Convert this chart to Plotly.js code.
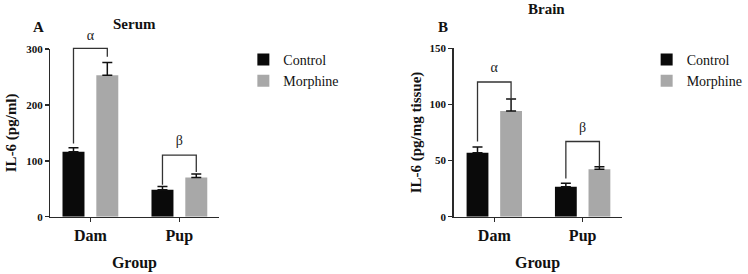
<!DOCTYPE html>
<html>
<head>
<meta charset="utf-8">
<script src="https://cdn.plot.ly/plotly-3.0.1.min.js"></script>
<style>html,body{margin:0;padding:0;background:#fff}#chart{width:748px;height:274px}</style>
</head>
<body>
<div id="chart"></div>
<script>
// ---- data ----
const groups = ['Dam', 'Pup'];
const groupPos = [0, 1];
const seriesNames = ['Control', 'Morphine'];

const serumControl = [116, 48];
const serumControlErr = [7.5, 6];
const serumMorphine = [253, 70];
const serumMorphineErr = [23, 6.5];

const brainControl = [57, 26.7];
const brainControlErr = [5, 3];
const brainMorphine = [94.2, 42.2];
const brainMorphineErr = [10.6, 2.3];

// significance brackets: [group, top, left end, right end, label, label y]
const serumBrackets = [[0, 301, 131, 286, 'α', 322], [1, 110, 57, 80, 'β', 134]];
const brainBrackets = [[0, 120, 67, 104, 'α', 132], [1, 67, 34, 45, 'β', 79]];

const serumTicks = [0, 100, 200, 300];
const brainTicks = [0, 50, 100, 150];
const serumRange = [0, 300];
const brainRange = [0, 150];

// ---- style ----
const SERIF = '"Liberation Serif", "Times New Roman", serif';
const BLACK = '#0a0a0a';
const GRAY = '#a8a8a8';
const AXC = '#2a2a2a';
const BARGAP = 0.24, BARGROUPGAP = 0.35;
const OFF = (1 - BARGAP) / 4;

function px(x) { return x / 748; }
function py(y) { return 1 - y / 274; }

const serumDom = [py(216.7), py(49)];
const brainDom = [py(216.7), py(48.3)];

function bar(y, err, name, color, xa, ya, legend) {
  return {
    type: 'bar', x: groupPos, y: y, name: name, xaxis: xa, yaxis: ya,
    legend: legend, showlegend: true,
    marker: {color: color, line: {width: 0}},
    error_y: {type: 'data', array: err, arrayminus: err.map(() => 0), symmetric: false,
              color: '#111', thickness: 1.5, width: 5}
  };
}

const data = [
  bar(serumControl, serumControlErr, seriesNames[0], BLACK, 'x', 'y', 'legend'),
  bar(serumMorphine, serumMorphineErr, seriesNames[1], GRAY, 'x', 'y', 'legend'),
  bar(brainControl, brainControlErr, seriesNames[0], BLACK, 'x2', 'y2', 'legend2'),
  bar(brainMorphine, brainMorphineErr, seriesNames[1], GRAY, 'x2', 'y2', 'legend2')
];

// brackets go on hidden, taller twin y-axes with the same scale, so they are not clipped
function addBrackets(list, xa, ya) {
  list.forEach(b => {
    const [g, top, l, r, lab, ly] = b;
    const x0 = groupPos[g] - OFF, x1 = groupPos[g] + OFF;
    data.push({type: 'scatter', mode: 'lines', xaxis: xa, yaxis: ya, showlegend: false,
      hoverinfo: 'skip', x: [x0, x0, x1, x1], y: [l, top, top, r],
      line: {color: '#333', width: 1.3}});
    data.push({type: 'scatter', mode: 'text', xaxis: xa, yaxis: ya, showlegend: false,
      cliponaxis: false, hoverinfo: 'skip',
      x: [groupPos[g]], y: [ly], text: [lab], textposition: 'middle center',
      textfont: {family: SERIF, size: 14, color: '#222'}});
  });
}
addBrackets(serumBrackets, 'x', 'y3');
addBrackets(brainBrackets, 'x2', 'y4');

function lab(x, y, t) {
  return {xref: 'paper', yref: 'paper', x: px(x), y: py(y), xanchor: 'center', yanchor: 'middle',
    text: '<b>' + t + '</b>', showarrow: false, font: {family: SERIF, size: 15, color: '#111'}};
}
const annotations = [lab(135, 24, 'Serum'), lab(550, 9.5, 'Brain'), lab(39, 27, 'A'), lab(446, 27, 'B')];

function xax(domain, range, anchor) {
  return {domain: domain, range: range, tickvals: groupPos, ticktext: groups, anchor: anchor,
    showline: true, linecolor: AXC, linewidth: 1.5, ticks: 'outside', ticklen: 4,
    tickcolor: AXC, tickwidth: 1.5, showgrid: false, zeroline: false,
    tickfont: {family: SERIF, size: 16, color: '#111', weight: 'bold'},
    title: {text: '<b>Group</b>', standoff: 12, font: {family: SERIF, size: 16, color: '#111'}}};
}
function yax(domain, range, ticks, title, anchor, standoff) {
  return {domain: domain, range: range, tickvals: ticks, anchor: anchor,
    showline: true, linecolor: AXC, linewidth: 1.5, ticks: 'outside', ticklen: 4,
    tickcolor: AXC, tickwidth: 1.5, showgrid: false, zeroline: false,
    tickfont: {family: SERIF, size: 11, color: '#111', weight: 'bold'},
    title: {text: '<b>' + title + '</b>', standoff: standoff, font: {family: SERIF, size: 15, color: '#111'}}};
}
// twin axis: same pixel scale as the visible one, but extended up to the top of the page
function twin(domain, range, anchor) {
  const top = range[0] + (range[1] - range[0]) * (1 - domain[0]) / (domain[1] - domain[0]);
  return {domain: [domain[0], 1], range: [range[0], top], anchor: anchor, visible: false,
    showgrid: false, zeroline: false};
}

const legendStyle = {xanchor: 'left', yanchor: 'top', bgcolor: 'rgba(0,0,0,0)',
  font: {family: SERIF, size: 14, color: '#111'}, tracegroupgap: 0};

const layout = {
  width: 748, height: 274,
  margin: {l: 0, r: 0, t: 0, b: 0},
  paper_bgcolor: '#fff', plot_bgcolor: 'rgba(0,0,0,0)',
  font: {family: SERIF},
  barmode: 'group', bargap: BARGAP, bargroupgap: BARGROUPGAP,
  xaxis: xax([px(50.7), px(220)], [-0.45, 1.44], 'y'),
  yaxis: yax(serumDom, serumRange, serumTicks, 'IL-6 (pg/ml)', 'x', 6),
  xaxis2: xax([px(456.7), px(625.7)], [-0.46, 1.44], 'y2'),
  yaxis2: yax(brainDom, brainRange, brainTicks, 'IL-6 (pg/mg tissue)', 'x2', 4),
  yaxis3: twin(serumDom, serumRange, 'x'),
  yaxis4: twin(brainDom, brainRange, 'x2'),
  legend: Object.assign({x: px(245), y: py(44)}, legendStyle),
  legend2: Object.assign({x: px(651), y: py(44)}, legendStyle),
  annotations: annotations
};

Plotly.newPlot('chart', data, layout, {staticPlot: true, displayModeBar: false});
</script>
</body>
</html>
